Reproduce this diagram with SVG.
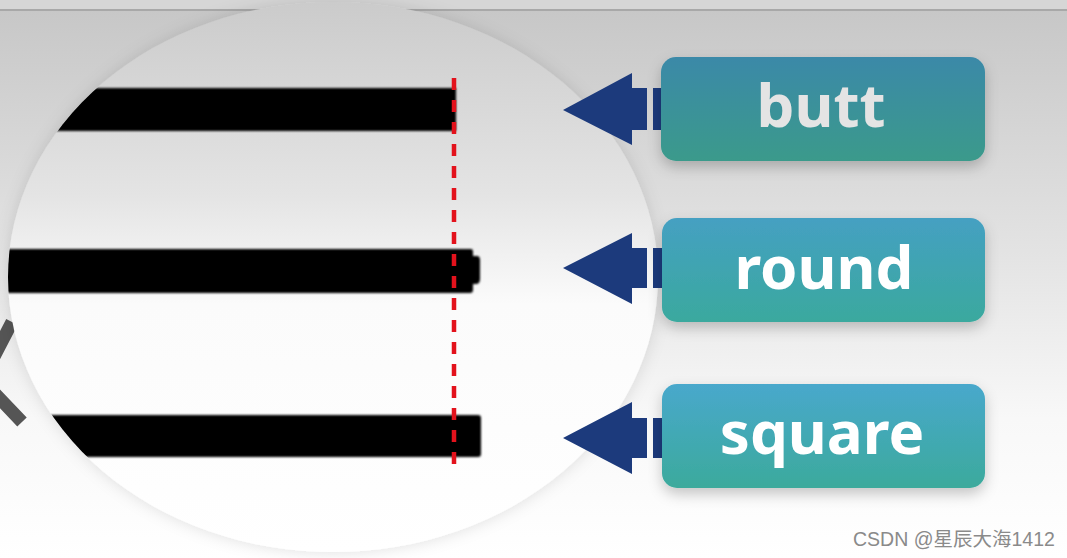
<svg xmlns="http://www.w3.org/2000/svg" width="1067" height="558" viewBox="0 0 1067 558">
<defs>
<linearGradient id="bg" x1="0" y1="0" x2="0" y2="1">
<stop offset="0" stop-color="#c6c6c6"/>
<stop offset="0.45" stop-color="#e3e3e3"/>
<stop offset="0.75" stop-color="#f8f8f8"/>
<stop offset="1" stop-color="#ffffff"/>
</linearGradient>
<linearGradient id="circ" x1="0" y1="0" x2="0" y2="1">
<stop offset="0" stop-color="#cbcbcb"/>
<stop offset="0.35" stop-color="#e4e4e4"/>
<stop offset="0.55" stop-color="#fbfbfb"/>
<stop offset="1" stop-color="#ffffff"/>
</linearGradient>
<linearGradient id="box1" x1="0" y1="0" x2="0" y2="1">
<stop offset="0" stop-color="#3b89a8"/>
<stop offset="1" stop-color="#3a9a8b"/>
</linearGradient>
<linearGradient id="box2" x1="0" y1="0" x2="0" y2="1">
<stop offset="0" stop-color="#45a0c2"/>
<stop offset="1" stop-color="#3aa99e"/>
</linearGradient>
<linearGradient id="box3" x1="0" y1="0" x2="0" y2="1">
<stop offset="0" stop-color="#48a8cc"/>
<stop offset="1" stop-color="#3caa9c"/>
</linearGradient>
<filter id="shadow" x="-20%" y="-20%" width="140%" height="150%">
<feDropShadow dx="0" dy="6" stdDeviation="7" flood-color="#000" flood-opacity="0.22"/>
</filter>
<filter id="cshadow" x="-10%" y="-10%" width="120%" height="120%">
<feDropShadow dx="0" dy="0" stdDeviation="8" flood-color="#000" flood-opacity="0.12"/>
</filter>
<filter id="soft" x="-5%" y="-20%" width="110%" height="140%">
<feGaussianBlur stdDeviation="0.8"/>
</filter>
<clipPath id="cclip">
<ellipse cx="333" cy="277" rx="325" ry="275"/>
</clipPath>
<style>
.bar{fill:#000000}
.arrow{fill:#1c3a7c}
.label{font-family:"Noto Sans","Open Sans",sans-serif;font-weight:700;font-size:60px;text-anchor:middle;fill:#ffffff}
.wm{font-family:"Liberation Sans","Noto Sans CJK SC",sans-serif;font-size:19.5px;fill:#8a8a8a;stroke:#ffffff;stroke-width:0.6;paint-order:stroke}
</style>
</defs>

<rect x="0" y="0" width="1067" height="558" fill="url(#bg)"/>
<rect x="0" y="0" width="1067" height="10" fill="#d6d6d6"/>
<rect x="0" y="9" width="1067" height="2" fill="#a8a8a8"/>

<polyline points="12,322 -18,380 22,422" fill="none" stroke="#555555" stroke-width="13"/>

<g id="lens">
<ellipse cx="333" cy="277" rx="325" ry="275" fill="url(#circ)" filter="url(#cshadow)"/>
<g clip-path="url(#cclip)" filter="url(#soft)">
<rect class="bar" x="0" y="88" width="456" height="43"/>
<path class="bar" d="M0,249 H471 Q473,249 473,252 V256 H477 Q480,256 480,260 V279 Q480,284 476,284 H473 V290 Q473,293 470,293 H0 Z"/>
<path class="bar" d="M0,415 H478 Q481,415 481,418 V454 Q481,457 478,457 H0 Z"/>
</g>
<line x1="454" y1="78" x2="454" y2="466" stroke="#e3121c" stroke-width="4.5" stroke-dasharray="12 10"/>
</g>

<g id="connectors">
<path class="arrow" d="M563,110 L632,73 V88 H647 V130 H632 V145 Z"/>
<rect class="arrow" x="653" y="88" width="10" height="42"/>
<path class="arrow" d="M563,268 L632,233 V248 H647 V288 H632 V304 Z"/>
<rect class="arrow" x="653" y="248" width="10" height="40"/>
<path class="arrow" d="M563,438 L632,402 V418 H647 V458 H632 V474 Z"/>
<rect class="arrow" x="653" y="418" width="10" height="40"/>
</g>

<g id="node-butt">
<rect x="661" y="57" width="324" height="104" rx="15" fill="url(#box1)" filter="url(#shadow)"/>
<text class="label" x="821" y="127" style="fill:#e4e4e4">butt</text>
</g>
<g id="node-round">
<rect x="662" y="218" width="323" height="104" rx="15" fill="url(#box2)" filter="url(#shadow)"/>
<text class="label" x="824" y="289">round</text>
</g>
<g id="node-square">
<rect x="662" y="384" width="323" height="104" rx="15" fill="url(#box3)" filter="url(#shadow)"/>
<text class="label" x="822" y="454">square</text>
</g>

<text class="wm" x="853" y="546">CSDN @星辰大海1412</text>
</svg>
